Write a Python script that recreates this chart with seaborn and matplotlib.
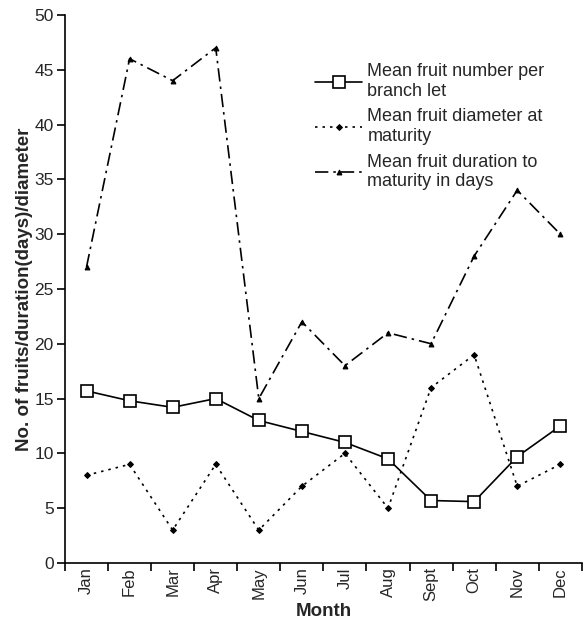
import matplotlib
matplotlib.use("Agg")
import matplotlib.pyplot as plt
import seaborn as sns
import pandas as pd
import numpy as np

months = ["Jan", "Feb", "Mar", "Apr", "May", "Jun", "Jul", "Aug", "Sept", "Oct", "Nov", "Dec"]
fruit_number = [15.7, 14.8, 14.2, 15.0, 13.0, 12.0, 11.0, 9.5, 5.7, 5.6, 9.7, 12.5]
fruit_diameter = [8, 9, 3, 9, 3, 7, 10, 5, 16, 19, 7, 9]
fruit_duration = [27, 46, 44, 47, 15, 22, 18, 21, 20, 28, 34, 30]
labels = ["Mean fruit number per\nbranch let",
          "Mean fruit diameter at\nmaturity",
          "Mean fruit duration to\nmaturity in days"]

sns.set_style("ticks")
plt.rcParams['font.family'] = ['Liberation Sans', 'DejaVu Sans']

fig = plt.figure(figsize=(5.88, 6.21), dpi=100)
ax = fig.add_axes([0.1105, 0.0934, 0.879, 0.8826])

x = np.arange(len(months))
df = pd.DataFrame({"x": x, "n": fruit_number, "d": fruit_diameter, "t": fruit_duration})

sns.lineplot(data=df, x="x", y="n", ax=ax, color="black", lw=1.2, linestyle="-",
             marker="s", markersize=8, markerfacecolor="white", markeredgecolor="black",
             markeredgewidth=1.2, label=labels[0])
sns.lineplot(data=df, x="x", y="d", ax=ax, color="black", lw=1.2, linestyle=(0, (1.5, 3)),
             marker="D", markersize=3, markerfacecolor="black", markeredgecolor="black",
             label=labels[1])
sns.lineplot(data=df, x="x", y="t", ax=ax, color="black", lw=1.2, linestyle=(0, (8, 3, 1.5, 3)),
             marker="^", markersize=3.5, markerfacecolor="black", markeredgecolor="black",
             label=labels[2])

ax.set_xlim(-0.5, 11.5)
ax.set_ylim(0, 50)
ax.set_yticks(np.arange(0, 51, 5))
ax.set_xticks(x)
ax.set_xticklabels(months, rotation=90, fontsize=12)
ax.set_xticks(np.arange(-0.5, 12, 1), minor=True)
ax.tick_params(axis="x", which="major", length=0, pad=3)
ax.tick_params(axis="x", which="minor", length=6, width=1.2, direction="out", color="black")
ax.tick_params(axis="y", length=6, width=1.2, direction="out", labelsize=12.5, color="black", pad=2)
for s in ["top", "right"]:
    ax.spines[s].set_visible(False)
for s in ["left", "bottom"]:
    ax.spines[s].set_linewidth(1.2)
    ax.spines[s].set_color("black")

ax.set_xlabel("Month", fontsize=13.5, fontweight="bold", labelpad=1)
ax.set_ylabel("No. of fruits/duration(days)/diameter", fontsize=13.5, fontweight="bold", labelpad=1)

leg = ax.legend(loc="upper left", bbox_to_anchor=(0.484, 0.912), frameon=False, fontsize=13,
                handlelength=2.6, handletextpad=0.3, labelspacing=0.48, borderaxespad=0,
                borderpad=0)

fig.savefig("out.png", dpi=100)
